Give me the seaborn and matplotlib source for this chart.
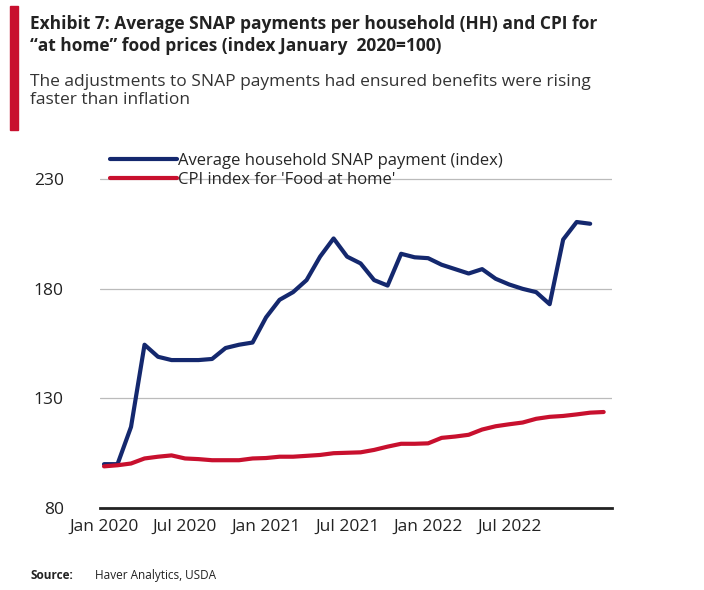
import numpy as np
import pandas as pd
import matplotlib.pyplot as plt
import seaborn as sns

snap = [100, 100, 117, 154.5, 149, 147.5, 147.5, 147.5, 148, 153, 154.5, 155.5,
        167, 175, 178.5, 184, 194.7, 203, 194.7, 191.6, 184, 181.5, 196, 194.4,
        194, 191, 189, 187, 189, 184.6, 182, 180, 178.5, 173, 202.5, 210.5, 209.7]
cpi = [99, 99.5, 100.3, 102.6, 103.4, 104, 102.6, 102.3, 101.8, 101.8, 101.8, 102.6,
       102.8, 103.4, 103.4, 103.8, 104.2, 105, 105.2, 105.4, 106.5, 108, 109.3, 109.3,
       109.5, 112, 112.6, 113.4, 115.8, 117.3, 118.2, 119, 120.7, 121.6, 122, 122.7, 123.5, 123.8]
tick_labels = ["Jan 2020", "Jul 2020", "Jan 2021", "Jul 2021", "Jan 2022", "Jul 2022"]

df = pd.concat([
    pd.DataFrame({"month": range(len(snap)), "value": snap,
                  "series": "Average household SNAP payment (index)"}),
    pd.DataFrame({"month": range(len(cpi)), "value": cpi,
                  "series": "CPI index for 'Food at home'"}),
])

sns.set_theme(style="white")
plt.rcParams["font.family"] = ["Open Sans", "DejaVu Sans"]

fig = plt.figure(figsize=(7.04, 5.9), dpi=100)
ax = fig.add_axes([0.142, 0.139, 0.727, 0.598])
sns.lineplot(data=df, x="month", y="value", hue="series", ax=ax, linewidth=3,
             palette=["#14286e", "#c8102e"])

ax.set_ylim(80, 241)
ax.set_xlim(-0.3, 37.6)
ax.set_yticks([80, 130, 180, 230])
ax.set_xticks(range(0, 31, 6))
ax.set_xticklabels(tick_labels)
ax.tick_params(labelsize=12.5, colors="#222222", length=0, pad=8)
ax.yaxis.grid(True, color="#bbbbbb", linewidth=0.9)
ax.set_xlabel("")
ax.set_ylabel("")
for s in ["top", "right", "left"]:
    ax.spines[s].set_visible(False)
ax.spines["bottom"].set_color("#222222")
ax.spines["bottom"].set_linewidth(2)
ax.yaxis.set_tick_params(pad=26)

leg = ax.legend(loc="upper left", bbox_to_anchor=(-0.01, 1.05), frameon=False,
                fontsize=12, handlelength=4, handletextpad=0.1, labelspacing=0.2)

fig.patches.append(plt.Rectangle((0.014, 0.78), 0.012, 0.21, transform=fig.transFigure,
                                 color="#c8102e"))
fig.text(0.043, 0.975, "Exhibit 7: Average SNAP payments per household (HH) and CPI for\n"
         "\u201cat home\u201d food prices (index January  2020=100)",
         fontsize=12.5, fontweight="bold", va="top", color="#222222", linespacing=1.3)
fig.text(0.043, 0.875, "The adjustments to SNAP payments had ensured benefits were rising\n"
         "faster than inflation", fontsize=12.5, va="top", color="#333333", linespacing=1.2)
fig.text(0.043, 0.018, "Source:", fontsize=8.5, fontweight="bold", color="#222222")
fig.text(0.135, 0.018, "Haver Analytics, USDA", fontsize=8.5, color="#222222")

fig.savefig("out.png", dpi=100)
